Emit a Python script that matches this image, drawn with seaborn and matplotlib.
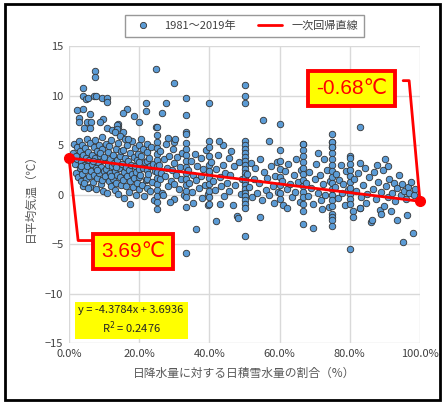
import matplotlib
matplotlib.use("Agg")
import matplotlib.pyplot as plt
import seaborn as sns
import pandas as pd
from matplotlib.lines import Line2D
from matplotlib.patches import Rectangle
from matplotlib.ticker import PercentFormatter

sns.set_style("white")
plt.rcParams['font.family'] = ['Noto Sans CJK JP', 'DejaVu Sans']

# snow-water share of daily precipitation (%) and daily mean temperature (C)
snow_pct = [
    # 0-5 %
    1.2, 1.5, 1.8, 2.0, 2.2, 2.4, 2.6, 2.8, 3.0, 3.1, 3.3, 3.5, 3.6, 3.8, 4.0, 4.1, 4.3, 4.5, 4.6, 4.8, 4.9, 5.0, 2.1, 3.4, 4.4,
    # 5-10 %
    5.2, 5.4, 5.6, 5.8, 6.0, 6.1, 6.3, 6.5, 6.6, 6.8, 7.0, 7.1, 7.3, 7.5, 7.6, 7.8, 8.0, 8.1, 8.3, 8.5, 8.6, 8.8, 9.0, 9.1,
    9.3, 9.5, 9.6, 9.8, 9.9, 6.9, 7.9, 8.9, 5.5, 9.4,
    # 10-15 %
    10.1, 10.3, 10.4, 10.6, 10.8, 11.0, 11.1, 11.3, 11.5, 11.6, 11.8, 12.0, 12.1, 12.3, 12.5, 12.6, 12.8, 13.0, 13.1, 13.3,
    13.5, 13.6, 13.8, 14.0, 14.1, 14.3, 14.5, 14.6, 14.8, 11.9, 13.4, 14.9,
    # 15-20 %
    15.1, 15.3, 15.4, 15.6, 15.8, 16.0, 16.1, 16.3, 16.5, 16.6, 16.8, 17.0, 17.1, 17.3, 17.4, 17.5, 17.7, 17.9, 18.0, 18.2,
    18.4, 18.5, 18.7, 18.9, 19.0, 19.2, 19.4, 19.5, 19.7, 19.9, 20.0, 20.0, 20.0, 20.0,
    # 20-25 %
    20.3, 20.5, 20.8, 21.0, 21.2, 21.4, 21.6, 21.8, 22.2, 22.2, 22.2, 22.2, 22.2, 22.2, 22.5, 22.8, 23.0, 23.2, 23.5, 23.7,
    24.0, 24.2, 24.5,
    25, 25, 25, 25, 25, 25, 25, 25, 25, 25, 25, 25, 25,
    # 25-33 %
    25.5, 25.8, 26.0, 26.3, 26.6, 27.0, 27.3, 27.6, 28.0, 28.3, 28.6, 29.0, 29.3, 29.6, 30.0, 30.0, 30.0, 30.4, 30.8, 31.2,
    31.6, 32.0, 32.3, 32.7, 29.8, 26.9, 28.8,
    33.3, 33.3, 33.3, 33.3, 33.3, 33.3, 33.3, 33.3, 33.3, 33.3, 33.3, 33.3,
    # 34-40 %
    34.0, 34.3, 34.7, 35.0, 35.4, 35.4, 35.8, 36.2, 36.2, 36.6, 37.0, 37.5, 37.5, 37.9, 38.3, 38.7, 39.1, 39.5, 39.7, 39.9,
    40, 40, 40, 40, 40, 40, 40, 40, 40, 40,
    # 40-50 %
    40.5, 41.0, 41.5, 41.8, 42.0, 42.5, 42.9, 43.3, 43.8, 44.2, 44.4, 44.9, 45.5, 45.5, 46.0, 46.7, 47.0, 47.4, 47.8, 48.2,
    48.5, 48.9, 49.2, 42.9, 46.2, 44.0,
    50, 50, 50, 50, 50, 50, 50, 50, 50, 50, 50, 50, 50, 50, 50, 50, 50, 50, 50, 50,
    # 50-60 %
    50.8, 51.3, 51.8, 52.2, 52.6, 53.0, 53.5, 54.0, 54.3, 54.5, 55.0, 55.3, 55.6, 56.0, 56.5, 57.0, 57.1, 57.5, 58.0, 58.3,
    58.8, 59.2, 59.6,
    60, 60, 60, 60, 60, 60, 60, 60,
    # 60-67 %
    60.6, 61.0, 61.5, 62.0, 62.0, 62.5, 63.0, 63.6, 64.0, 64.3, 64.8, 65.2, 65.7, 66.0,
    66.7, 66.7, 66.7, 66.7, 66.7, 66.7, 66.7, 66.7, 66.7, 66.7, 66.7, 66.7, 66.7,
    # 67-75 %
    67.5, 68.0, 68.5, 69.0, 69.6, 69.6, 70.0, 70.5, 71.0, 71.4, 71.9, 72.3, 72.7, 73.0, 73.5, 74.0, 74.3, 70.8, 72.0,
    75, 75, 75, 75, 75, 75, 75, 75, 75, 75, 75, 75, 75, 75, 75, 75, 75,
    # 75-80 %
    75.7, 76.2, 76.6, 77.0, 77.4, 77.8, 78.2, 78.6, 79.0, 79.4,
    80, 80, 80, 80, 80, 80, 80, 80, 80, 80, 80,
    # 80-100 %
    80.8, 81.0, 81.2, 81.8, 82.3, 82.9, 82.9, 83.0, 83.3, 83.8, 84.2, 84.6, 85.0, 85.5, 85.9, 86.4, 86.5, 87.0, 87.5, 88.0,
    88.5, 88.9, 89.0, 89.4, 89.8, 90.0, 90.3, 90.8, 91.3, 91.6, 92.0, 92.5, 93.0, 93.4, 93.5, 94.0, 94.5, 95.0, 95.2, 95.5,
    96.0, 96.3, 96.5, 97.0, 97.5, 98.0, 98.2, 98.5, 87.7, 91.0,
    # high / low outliers
    7.4, 7.4, 24.8, 30.0, 4.0, 4.0, 4.9, 5.4, 7.1, 7.7, 9.4, 10.8, 10.8, 21.9, 21.9, 27.6, 26.5, 16.5, 15.4, 2.3,
    4.0, 6.0, 2.8, 2.8, 18.5, 9.7, 8.8, 14.0, 14.0, 10.8, 24.8, 5.2, 6.3, 4.3, 6.0, 12.3, 13.7, 13.7, 13.1, 15.4,
    14.5, 16.0, 16.8, 20.5, 28.2, 30.2, 42.7,
]
temp = [
    4.2, 5.1, 3.1, 2.2, 4.8, 3.6, 1.8, 5.4, 2.7, 4.4, 1.4, 3.3, 5.0, 2.1, 4.0, 0.9, 3.0, 4.7, 2.5, 1.6, 3.7, 5.6, 3.9, 2.9, 1.2,
    2.9, 4.3, 1.9, 3.5, 5.2, 0.8, 2.4, 4.0, 3.1, 1.3, 4.8, 2.0, 3.7, 5.5, 2.7, 0.6, 4.4, 1.7, 3.3, 2.2, 5.0, 3.9, 1.1, 2.8,
    4.6, 1.5, 3.5, 0.4, 2.4, 3.4, 2.5, 4.2, 0.7, 5.8,
    3.8, 1.9, 5.1, 2.6, 0.2, 4.3, 3.0, 1.4, 4.9, 2.2, 3.6, 0.9, 5.5, 2.9, 1.6, 4.0, 3.2, 0.5, 2.4, 4.6,
    1.2, 3.5, 2.0, 5.2, 0.1, 2.7, 3.9, 1.8, 4.4, 1.9, 2.8, 1.0,
    3.1, 1.5, 4.5, 2.3, -0.4, 3.7, 0.9, 2.8, 5.0, 1.9, 3.4, 0.3, 2.5, 4.2, -1.0, 1.4, 3.0, 5.4, 2.1, 0.8,
    3.8, 1.7, 2.9, 4.7, 0.0, 2.3, 3.5, 1.2, 4.1, 2.6, 0.6, 3.3, 5.0, 1.8,
    2.0, 3.9, 1.0, 4.6, 2.7, -0.2, 3.3, 1.5, 4.3, 3.4, 2.5, 1.6, 0.7, 5.1, 2.1, 3.7, 0.4, 2.9, 4.8, 1.3,
    3.1, -0.6, 2.4,
    5.3, 4.7, 4.1, 3.5, 2.9, 2.3, 1.7, 1.1, 0.5, -0.2, -0.8, -1.5, 6.0,
    3.0, 1.6, 4.4, 2.2, 0.2, 3.6, 1.9, 5.1, 2.7, 0.9, 3.9, 1.4, 2.5, 4.6, -0.5, 3.2, 1.1, 2.0, 3.8, 0.6,
    2.8, 1.6, 4.2, -0.1, 5.3, 0.0, -0.8,
    5.2, 4.6, 4.0, 3.4, 2.8, 2.2, 1.6, 1.0, 0.4, -0.3, -1.3, -5.9,
    2.5, 1.2, 3.4, 0.3, -0.9, 2.0, 4.1, 1.5, -3.5, 2.9, 0.7, 3.7, 1.9, -0.4, 2.6, 1.0, 4.5, 0.1, -1.1, 2.2,
    5.4, 4.8, 3.9, 3.0, 2.4, 1.7, 1.1, 0.4, -0.3, -1.0,
    3.3, 1.4, 0.5, -2.7, 2.6, 4.0, 1.8, 0.9, 3.0, -0.2, 2.2, 1.2, 3.7, 0.4, 2.0, -1.1, 2.9, 1.0, -2.2, -2.4,
    3.3, 0.1, 1.6, -1.0, 4.4, 5.0,
    5.4, 5.0, 4.6, 4.2, 3.8, 3.4, 3.0, 2.6, 2.2, 1.8, 1.4, 1.0, 0.6, 0.2, -0.2, -0.6, -1.0, -1.4, -4.2, 11.1,
    2.1, 0.8, 3.2, -0.3, 1.6, 2.7, 0.2, 1.2, -2.3, 3.6, -0.6, 7.5, 2.3, 0.5, 1.7, 5.4, -0.1, 2.9, 0.9, -0.9,
    1.9, 3.3, 0.3,
    7.1, 4.5, 3.4, 2.6, 1.8, 1.0, 0.2, -0.5,
    1.4, -1.1, 2.4, 0.6, -1.4, 3.1, 1.1, -0.3, 2.0, 0.3, 3.6, 1.3, -0.8, 2.5,
    5.1, 4.5, 3.9, 3.3, 2.7, 2.1, 1.5, 0.9, 0.3, -0.3, -1.0, -1.7, -3.0,
    1.2, -0.2, 2.3, 0.7, -1.0, -3.4, 1.6, 3.1, 0.2, 2.0, -0.6, 1.1, 3.6, 0.0, 2.5, -1.3, 1.4, 4.2, -1.5,
    6.1, 5.3, 4.8, 4.2, 3.6, 3.0, 2.4, 1.8, 1.2, 0.6, 0.0, -0.6, -1.2, -2.0, -2.3, -2.6, -3.2,
    0.8, 2.1, -0.4, 1.5, 3.0, 0.2, 1.1, -1.1, 2.4, 0.5,
    3.9, 3.7, 3.1, 2.5, 1.9, 1.3, 0.7, 0.1, -0.5, -1.0, -5.5,
    -1.7, -2.3, 1.6, 0.4, 2.2, 6.8, -1.4, 3.2, -0.3, 1.0, 2.7, -0.9, 0.1, 1.8, -2.8, -2.6, 0.6, 2.3, -0.5, 1.3,
    -1.6, -2.0, 0.3, 2.5, -1.2, 3.6, 0.9, -0.3, 1.6, -1.7, 0.2, 1.2, -0.7, -2.6, 0.7, 2.0, -0.1, 1.1, -4.8, 0.4,
    -0.5, -2.1, 0.8, 0.2, 1.3, -3.9, 0.0, 0.6, 3.0, 2.9,
    12.5, 11.9, 12.7, 11.3, 10.8, 9.9, 9.6, 9.7, 10.0, 10.0, 9.7, 9.7, 9.3, 9.2, 8.4, 9.2, 8.2, 8.6, 8.2, 8.5,
    8.6, 8.1, 7.7, 7.3, 7.9, 7.6, 7.3, 7.1, 6.8, 6.7, 6.8, 7.3, 7.3, 6.7, 6.7, 6.5, 7.0, 6.6, 6.3, 6.3,
    5.9, 5.6, 5.6, 5.6, 5.7, 5.6, 5.4,
]
# a few column points that sit above the cloud
extra_pct = [50, 50, 40, 33.3, 33.3, 33.3, 33.3, 20.0, 25, 66.7, 75, 75, 82.9]
extra_temp = [9.9, 9.2, 9.2, 9.7, 8.0, 6.3, 6.1, 7.3, 6.8, 5.1, 5.3, 4.8, -1.4]

slope = -4.3784
intercept = 3.6936
r2 = 0.2476

df = pd.DataFrame({"x": [v / 100 for v in snow_pct + extra_pct], "y": temp + extra_temp})

fig = plt.figure(figsize=(4.43, 4.03), dpi=100)
ax = fig.add_axes([69 / 443, 1 - 343 / 403, 351 / 443, 297 / 403])

sns.scatterplot(data=df, x="x", y="y", ax=ax, s=22, color="#5B9BD5",
                edgecolor="#333333", linewidth=0.6, zorder=3, legend=False)

x_line = [0.0, 1.0]
y_line = [intercept + slope * v for v in x_line]
ax.plot(x_line, y_line, color="#FF0000", lw=2, zorder=4)
ax.plot(x_line, y_line, "o", color="#FF0000", ms=7, zorder=5, clip_on=False)

ax.set_xlim(0, 1)
ax.set_ylim(-15, 15)
ax.set_xticks([0, 0.2, 0.4, 0.6, 0.8, 1.0])
ax.set_yticks([-15, -10, -5, 0, 5, 10, 15])
ax.xaxis.set_major_formatter(PercentFormatter(1.0, decimals=1))
ax.grid(True, color="#D9D9D9", lw=1)
for s in ax.spines.values():
    s.set_visible(False)
ax.tick_params(axis="both", length=0, labelsize=8, labelcolor="#404040", pad=4)
ax.set_xlabel("日降水量に対する日積雪水量の割合（%）", fontsize=8.5, color="#595959", labelpad=6)
ax.set_ylabel("日平均気温（℃）", fontsize=8.5, color="#595959", labelpad=6)

# callouts
box = dict(boxstyle="square,pad=0.38", fc="#FFFF00", ec="#FF0000", lw=2.8)
ax.plot([0.0, 0.026, 0.068], [y_line[0], -4.65, -4.65], color="#FF0000", lw=2, clip_on=False, zorder=4)
ax.text(0.182, -5.76, "%.2f℃" % y_line[0], color="#FF0000", fontsize=15, ha="center", va="center",
        bbox=box, zorder=6, family=["Liberation Sans", "DejaVu Sans"])
ax.plot([0.952, 0.969, 1.0], [11.5, 11.5, y_line[1]], color="#FF0000", lw=2, clip_on=False, zorder=4)
ax.text(0.806, 10.7, "%.2f℃" % y_line[1], color="#FF0000", fontsize=15, ha="center", va="center",
        bbox=box, zorder=6, family=["Liberation Sans", "DejaVu Sans"])

ax.text(0.177, -12.7, "y = %.4fx + %.4f\nR$^2$ = %.4f" % (slope, intercept, r2), fontsize=8,
        ha="center", va="center", linespacing=1.3, zorder=6,
        bbox=dict(boxstyle="square,pad=0.35", fc="#FFFF00", ec="none"))

handles = [Line2D([], [], ls="none", marker="o", ms=4.5, mfc="#5B9BD5", mec="#333333", mew=0.6),
           Line2D([], [], color="#FF0000", lw=2)]
leg = ax.legend(handles, ["1981～2019年", "一次回帰直線"], ncol=2, loc="center",
                bbox_to_anchor=(0.5, 1.068), fontsize=8, frameon=True, fancybox=False,
                edgecolor="#7F7F7F", handlelength=2.2, columnspacing=2.0, borderpad=0.5)
leg.get_frame().set_linewidth(1.0)
for t in leg.get_texts():
    t.set_color("#404040")

fig.patches.append(Rectangle((5 / 443, 3 / 403), 435 / 443, 396 / 403, transform=fig.transFigure,
                             fill=False, ec="black", lw=2))

fig.savefig("out.png", dpi=100)
